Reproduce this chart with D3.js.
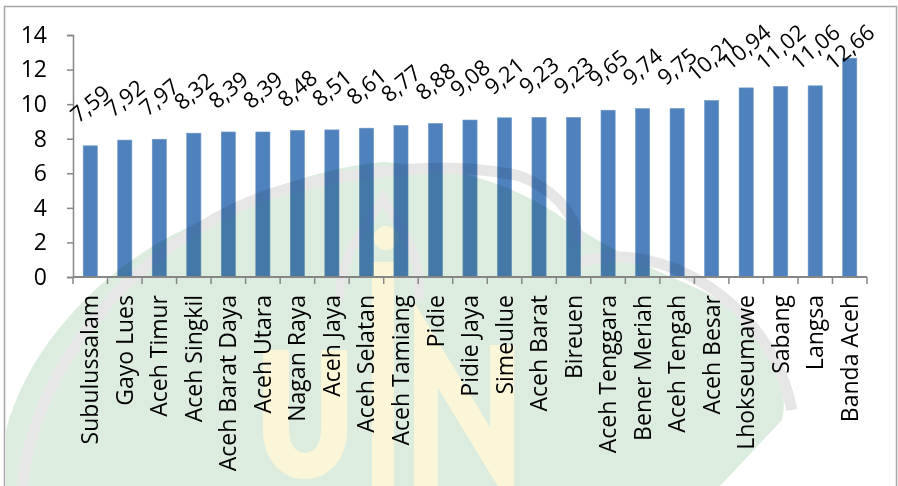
<!DOCTYPE html>
<html><head><meta charset="utf-8">
<script src="https://cdn.jsdelivr.net/npm/d3@7/dist/d3.min.js"></script>
<style>
html,body{margin:0;padding:0;background:#fff;}
svg{display:block;font-family:"Open Sans",sans-serif;}
</style></head>
<body><svg id="c" width="898" height="486"></svg>
<script>
const categories = ["Subulussalam","Gayo Lues","Aceh Timur","Aceh Singkil","Aceh Barat Daya","Aceh Utara","Nagan Raya","Aceh Jaya","Aceh Selatan","Aceh Tamiang","Pidie","Pidie Jaya","Simeulue","Aceh Barat","Bireuen","Aceh Tenggara","Bener Meriah","Aceh Tengah","Aceh Besar","Lhokseumawe","Sabang","Langsa","Banda Aceh"];
const values = [7.59,7.92,7.97,8.32,8.39,8.39,8.48,8.51,8.61,8.77,8.88,9.08,9.21,9.23,9.23,9.65,9.74,9.75,10.21,10.94,11.02,11.06,12.66];
const yTicks = [0,2,4,6,8,10,12,14];

const svg = d3.select("#c");
const W = 898, H = 486;
const x = d3.scaleBand().domain(categories).range([73, 867]).padding(0);
const y = d3.scaleLinear().domain([0, 14]).range([277, 35]);
const barW = x.bandwidth() * 0.41;
const fmt = v => v.toFixed(2).replace(".", ",");

// border
svg.append("path").attr("d", `M4.5,${H+2} V6.5 H896.5 V${H+2}`)
  .attr("fill", "none").attr("stroke", "#a6a6a6").attr("stroke-width", 1.5);

// bars
svg.append("g").selectAll("rect").data(values).join("rect")
  .attr("x", (d, i) => x(categories[i]) + (x.bandwidth() - barW) / 2)
  .attr("y", d => y(d))
  .attr("width", barW)
  .attr("height", d => y(0) - y(d))
  .attr("fill", "#4f81bd")
  .attr("stroke", "#6f97c8").attr("stroke-width", 0.6);

// watermark (decorative, multiplied over the chart)
const wm = svg.append("g").style("mix-blend-mode", "multiply");
wm.append("path")
  .attr("d", "M6,486 L6,430 C30,340 110,260 200,222 C260,190 320,168 383,162 C450,166 510,182 560,216 C600,245 650,268 705,292 C760,322 792,380 782,420 L720,486 Z")
  .attr("fill", "#dcede0");
const gr = "#e6e6e6";
wm.append("path")
  .attr("d", "M22,486 C36,370 120,262 240,206 C310,174 440,158 520,176 C560,192 578,220 578,244")
  .attr("fill", "none").attr("stroke", gr).attr("stroke-width", 11);
wm.append("path")
  .attr("d", "M580,262 C660,238 770,300 792,410")
  .attr("fill", "none").attr("stroke", gr).attr("stroke-width", 11);
wm.append("path")
  .attr("d", "M340,300 C338,255 368,225 383,198 C398,225 425,255 418,300")
  .attr("fill", "none").attr("stroke", gr).attr("stroke-width", 9);
const yel = "#fcf6d8";
wm.append("path").attr("d", "M276,350 L276,430 C276,478 334,478 334,430 L334,350")
  .attr("fill", "none").attr("stroke", yel).attr("stroke-width", 26);
wm.append("path").attr("d", "M426,486 L426,345 L502,470 L502,345")
  .attr("fill", "none").attr("stroke", yel).attr("stroke-width", 24);
wm.append("rect").attr("x", 372).attr("y", 262).attr("width", 22).attr("height", 230).attr("fill", yel);
wm.append("circle").attr("cx", 386).attr("cy", 238).attr("r", 12).attr("fill", yel);

// y axis
const axisColor = "#868686";
const yAxis = svg.append("g").attr("transform", "translate(73,0)")
  .call(d3.axisLeft(y).tickValues(yTicks).tickSize(6).tickPadding(20).tickFormat(d => d));
yAxis.select(".domain").attr("stroke", axisColor).attr("stroke-width", 1.5);
yAxis.selectAll(".tick line").attr("stroke", axisColor).attr("stroke-width", 1.5);
yAxis.selectAll(".tick text").attr("font-size", 23).attr("fill", "#000")
  .attr("font-family", "'Open Sans',sans-serif");

// x axis line and ticks between categories
const xg = svg.append("g");
xg.append("line").attr("x1", 73).attr("x2", 867).attr("y1", y(0)).attr("y2", y(0))
  .attr("stroke", axisColor).attr("stroke-width", 2);
const bounds = categories.map(c => x(c)).concat([x.range()[1]]);
xg.selectAll("line.t").data(bounds).join("line").attr("class", "t")
  .attr("x1", d => d).attr("x2", d => d).attr("y1", y(0)).attr("y2", y(0) + 7)
  .attr("stroke", axisColor).attr("stroke-width", 1.5);

// category labels
xg.selectAll("text").data(categories).join("text")
  .attr("transform", d => `translate(${x(d) + x.bandwidth() / 2},295) rotate(-90)`)
  .attr("text-anchor", "end").attr("dy", "0.35em")
  .attr("font-size", 23).attr("fill", "#000").text(d => d);

// data labels
svg.append("g").selectAll("text").data(values).join("text")
  .attr("transform", (d, i) => {
    const cx = x(categories[i]) + x.bandwidth() / 2;
    const cy = Math.max(y(d) - 42, 47);
    return `translate(${cx},${cy}) rotate(-40)`;
  })
  .attr("text-anchor", "middle").attr("dy", "0.35em")
  .attr("font-size", 22).attr("fill", "#000").text(d => fmt(d));
</script></body></html>
